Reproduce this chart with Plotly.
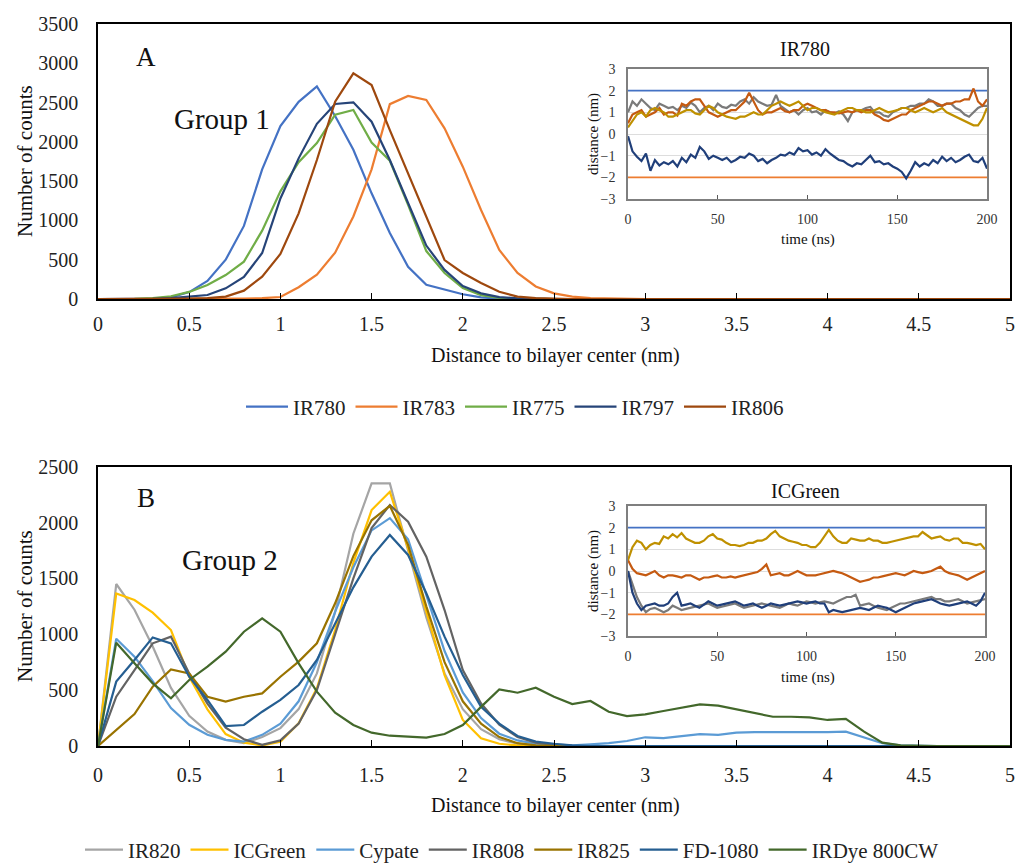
import plotly.graph_objects as go

W, H = 1015, 866
FONT = "Liberation Serif"


def px(x):
    return x / W


def py(y):
    return 1 - y / H


# ---------------- data ----------------
DIST = [round(i * 0.1, 1) for i in range(51)]  # bin centres, nm

# Group 1 (panel A)
A_NAMES = ["IR780", "IR783", "IR775", "IR797", "IR806"]
A_COLORS = ["#4472C4", "#ED7D31", "#70AD47", "#264478", "#9E480E"]
IR780 = [0, 0, 2, 5, 20, 88, 230, 500, 930, 1650, 2200, 2510, 2705, 2330, 1900, 1345, 840, 410, 180, 115,
         60, 20, 5, 0, 0, 0, 0, 0, 0, 0, 0, 0, 0, 0, 0, 0, 0, 0, 0, 0, 0, 0, 0, 0, 0, 0, 0, 0, 0, 0, 0]
IR783 = [0, 0, 0, 0, 0, 0, 0, 2, 5, 10, 25, 150, 310, 590, 1050, 1650, 2480, 2584, 2533, 2172,
         1684, 1133, 624, 331, 160, 72, 30, 12, 5, 2, 0, 0, 0, 0, 0, 0, 0, 0, 0, 0, 0, 0, 0, 0, 0, 0, 0, 0, 0, 0, 0]
IR775 = [0, 0, 3, 10, 35, 90, 178, 305, 475, 870, 1370, 1740, 1985, 2345, 2405, 1990, 1760, 1200, 610, 331,
         140, 50, 15, 5, 0, 0, 0, 0, 0, 0, 0, 0, 0, 0, 0, 0, 0, 0, 0, 0, 0, 0, 0, 0, 0, 0, 0, 0, 0, 0, 0]
IR797 = [0, 0, 0, 2, 10, 30, 51, 136, 280, 585, 1280, 1790, 2230, 2482, 2503, 2257, 1769, 1222, 680, 370,
         165, 72, 25, 8, 0, 0, 0, 0, 0, 0, 0, 0, 0, 0, 0, 0, 0, 0, 0, 0, 0, 0, 0, 0, 0, 0, 0, 0, 0, 0, 0]
IR806 = [0, 0, 0, 0, 2, 5, 10, 30, 106, 284, 573, 1090, 1769, 2512, 2872, 2724, 2150, 1600, 1048, 496,
         331, 204, 93, 30, 10, 3, 0, 0, 0, 0, 0, 0, 0, 0, 0, 0, 0, 0, 0, 0, 0, 0, 0, 0, 0, 0, 0, 0, 0, 0, 0]
A_SERIES = [IR780, IR783, IR775, IR797, IR806]

# Group 2 (panel B)
B_NAMES = ["IR820", "ICGreen", "Cypate", "IR808", "IR825", "FD-1080", "IRDye 800CW"]
B_COLORS = ["#A5A5A5", "#FFC000", "#5B9BD5", "#636363", "#997300", "#255E91", "#43682B"]
IR820 = [0, 1450, 1220, 890, 520, 270, 130, 55, 25, 80, 160, 330, 650, 1200, 1900, 2350, 2350, 1750, 1150, 650,
         330, 150, 60, 20, 5, 0, 0, 0, 0, 0, 0, 0, 0, 0, 0, 0, 0, 0, 0, 0, 0, 0, 0, 0, 0, 0, 0, 0, 0, 0, 0]
ICGREEN = [0, 1366, 1307, 1193, 1038, 620, 328, 107, 30, 5, 39, 203, 516, 1038, 1640, 2112, 2276, 1769, 1202, 635,
           233, 70, 20, 5, 0, 0, 0, 0, 0, 0, 0, 0, 0, 0, 0, 0, 0, 0, 0, 0, 0, 0, 0, 0, 0, 0, 0, 0, 0, 0, 0]
CYPATE = [0, 960, 800, 580, 340, 190, 100, 55, 40, 100, 200, 400, 750, 1200, 1600, 1930, 2040, 1850, 1350, 850,
          480, 250, 110, 50, 20, 10, 5, 15, 25, 45, 78, 70, 90, 107, 100, 119, 125, 125, 125, 120,
          125, 128, 75, 25, 5, 0, 0, 0, 0, 0, 0]
IR808 = [0, 441, 680, 919, 979, 650, 380, 165, 60, 10, 50, 200, 500, 1000, 1500, 1950, 2157, 2008, 1695, 1217,
         680, 380, 190, 80, 30, 10, 0, 0, 0, 0, 0, 0, 0, 0, 0, 0, 0, 0, 0, 0, 0, 0, 0, 0, 0, 0, 0, 0, 0, 0, 0]
IR825 = [0, 143, 286, 531, 686, 650, 441, 397, 441, 471, 620, 755, 919, 1277, 1700, 2020, 2150, 1800, 1250, 750,
         400, 200, 80, 25, 5, 0, 0, 0, 0, 0, 0, 0, 0, 0, 0, 0, 0, 0, 0, 0, 0, 0, 0, 0, 0, 0, 0, 0, 0, 0, 0]
FD1080 = [0, 576, 770, 972, 919, 620, 412, 179, 188, 307, 412, 546, 770, 1100, 1420, 1695, 1889, 1710, 1367, 979,
          636, 350, 200, 90, 40, 20, 5, 0, 0, 0, 0, 0, 0, 0, 0, 0, 0, 0, 0, 0, 0, 0, 0, 0, 0, 0, 0, 0, 0, 0, 0]
IRDYE = [0, 925, 740, 561, 427, 591, 710, 844, 1023, 1143, 1023, 740, 486, 298, 188, 119, 92, 84, 75, 107,
         188, 350, 507, 477, 522, 441, 376, 403, 307, 268, 283, 313, 343, 373, 361, 328, 298, 262, 262, 257,
         233, 242, 128, 30, 5, 0, 0, 0, 0, 0, 0]
B_SERIES = [IR820, ICGREEN, CYPATE, IR808, IR825, FD1080, IRDYE]

# Insets: distance to bilayer centre vs time, one value every 2.5 ns (0..200 ns)
MEMBRANE_LEVELS = [2, -2]
MEMBRANE_COLORS = ["#4472C4", "#ED7D31"]
TRAJ_COLORS = ["#7A7A7A", "#C55A11", "#BF9000", "#203F7A"]

IR780_GRAY = [1.0, 1.5, 1.3, 1.6, 1.4, 1.2, 1.1, 1.4, 1.3, 1.2,
              1.25, 1.1, 1.3, 1.2, 1.45, 1.3, 1.0, 1.2, 1.3, 1.1,
              1.4, 1.25, 1.2, 1.35, 1.3, 1.5, 1.6, 1.4, 1.7, 1.5,
              1.4, 1.3, 1.35, 1.8, 1.3, 1.15, 1.0, 1.1, 0.9, 1.1,
              1.2, 1.0, 1.05, 0.9, 1.1, 1.0, 0.95, 1.05, 0.9, 0.6,
              1.0, 1.1, 1.1, 1.2, 1.25, 1.0, 1.0, 0.85, 0.8, 1.0,
              1.1, 1.2, 1.2, 1.3, 1.3, 1.4, 1.4, 1.6, 1.5, 1.3,
              1.3, 1.4, 1.4, 1.2, 1.1, 0.9, 0.8, 1.0, 1.2, 1.3,
              1.3]
IR780_BROWN = [0.5, 0.9, 1.0, 1.1, 0.8, 0.9, 1.0, 1.2, 0.9, 1.0,
               1.0, 0.85, 1.4, 1.3, 1.5, 1.6, 1.6, 1.3, 1.0, 0.9,
               0.8, 0.9, 1.0, 1.1, 1.1, 1.3, 1.5, 1.9, 1.5, 1.1,
               0.9, 1.0, 1.0, 1.1, 1.2, 1.05, 1.0, 1.1, 1.1, 1.3,
               1.4, 1.3, 1.2, 1.1, 1.1, 1.0, 1.0, 0.95, 1.0, 1.05,
               1.0, 1.1, 1.0, 1.1, 1.1, 0.9, 0.8, 0.65, 0.6, 0.7,
               0.8, 0.9, 0.9, 1.1, 1.2, 1.3, 1.4, 1.5, 1.5, 1.4,
               1.3, 1.4, 1.4, 1.5, 1.5, 1.6, 1.6, 2.1, 1.5, 1.3,
               1.6]
IR780_GOLD = [0.3, 0.6, 0.9, 1.0, 0.8, 1.1, 1.2, 1.1, 1.0, 0.8,
              0.8, 0.9, 1.0, 1.1, 1.1, 0.95, 0.9, 1.1, 1.3, 1.2,
              1.0, 0.9, 0.8, 0.75, 0.7, 0.8, 0.8, 0.9, 1.0, 0.9,
              0.9, 1.1, 1.3, 1.4, 1.5, 1.4, 1.3, 1.4, 1.5, 1.3,
              1.1, 1.2, 1.2, 1.1, 1.0, 0.95, 0.9, 1.0, 1.1, 1.2,
              1.2, 1.1, 1.1, 1.0, 1.0, 1.1, 1.2, 1.1, 1.0, 1.05,
              1.1, 1.2, 1.2, 1.1, 1.0, 1.1, 1.2, 1.1, 1.0, 1.1,
              1.2, 1.0, 0.9, 0.8, 0.7, 0.6, 0.5, 0.4, 0.4, 0.7,
              1.2]
IR780_NAVY = [-0.1, -0.8, -1.05, -1.25, -0.9, -1.7, -1.2, -1.45, -1.3, -1.4,
              -1.25, -1.5, -1.1, -1.3, -0.95, -1.1, -0.6, -0.8, -1.15, -1.0,
              -1.1, -1.2, -1.1, -1.3, -1.2, -1.05, -1.1, -0.9, -1.0, -1.25,
              -1.15, -1.35, -1.2, -1.1, -0.95, -1.0, -0.85, -0.95, -0.65, -0.8,
              -0.75, -0.95, -0.85, -1.0, -0.7, -0.9, -1.05, -1.2, -1.25, -1.4,
              -1.5, -1.35, -1.4, -1.2, -1.0, -1.3, -1.25, -1.4, -1.35, -1.5,
              -1.6, -1.75, -2.05, -1.7, -1.3, -1.5, -1.35, -1.45, -1.2, -1.35,
              -1.05, -1.25, -1.1, -1.3, -1.2, -1.05, -0.95, -1.25, -1.3, -1.1,
              -1.6]

ICG_GRAY = [0.0, -0.6, -1.2, -1.6, -1.9, -1.75, -1.7, -1.8, -1.9, -1.8,
            -1.6, -1.7, -1.8, -1.75, -1.7, -1.65, -1.6, -1.55, -1.5, -1.6,
            -1.7, -1.65, -1.6, -1.55, -1.5, -1.6, -1.7, -1.65, -1.6, -1.55,
            -1.5, -1.55, -1.6, -1.65, -1.7, -1.6, -1.5, -1.55, -1.6, -1.5,
            -1.4, -1.45, -1.5, -1.45, -1.4, -1.45, -1.5, -1.4, -1.3, -1.2,
            -1.2, -1.1, -1.6, -1.55, -1.5, -1.6, -1.7, -1.75, -1.8, -1.7,
            -1.6, -1.5, -1.5, -1.45, -1.4, -1.35, -1.3, -1.25, -1.2, -1.3,
            -1.3, -1.4, -1.4, -1.35, -1.3, -1.4, -1.5, -1.45, -1.4, -1.35,
            -1.3]
ICG_BROWN = [0.5, 0.1, -0.1, -0.15, -0.2, -0.1, 0.0, -0.2, -0.3, -0.2,
             -0.2, -0.25, -0.3, -0.2, -0.2, -0.3, -0.4, -0.3, -0.3, -0.25,
             -0.2, -0.3, -0.3, -0.25, -0.3, -0.25, -0.2, -0.15, -0.1, -0.05,
             0.1, 0.3, -0.2, -0.15, -0.1, -0.2, -0.2, -0.1, 0.0, -0.1,
             -0.2, -0.2, -0.2, -0.15, -0.1, -0.05, 0.0, -0.05, -0.1, -0.2,
             -0.3, -0.4, -0.5, -0.45, -0.4, -0.3, -0.3, -0.25, -0.2, -0.15,
             -0.1, -0.15, -0.2, -0.1, 0.0, -0.05, -0.1, -0.05, 0.0, 0.1,
             0.2, 0.0, -0.1, -0.15, -0.2, -0.3, -0.4, -0.3, -0.2, -0.1,
             0.0]
ICG_GOLD = [0.5, 1.1, 1.4, 1.3, 1.0, 1.2, 1.3, 1.25, 1.6, 1.5,
            1.7, 1.55, 1.75, 1.5, 1.4, 1.3, 1.3, 1.4, 1.6, 1.7,
            1.5, 1.45, 1.3, 1.2, 1.2, 1.15, 1.2, 1.3, 1.3, 1.4,
            1.4, 1.5, 1.7, 1.85, 1.6, 1.5, 1.4, 1.35, 1.3, 1.2,
            1.2, 1.1, 1.1, 1.3, 1.6, 1.9, 1.6, 1.4, 1.3, 1.3,
            1.5, 1.45, 1.4, 1.4, 1.5, 1.4, 1.4, 1.3, 1.3, 1.35,
            1.4, 1.45, 1.5, 1.55, 1.6, 1.6, 1.8, 1.65, 1.5, 1.55,
            1.6, 1.45, 1.4, 1.5, 1.5, 1.3, 1.3, 1.25, 1.2, 1.25,
            1.0]
ICG_NAVY = [0.0, -1.0, -1.5, -1.8, -1.6, -1.55, -1.5, -1.6, -1.6, -1.5,
            -1.2, -1.0, -1.6, -1.55, -1.5, -1.6, -1.7, -1.55, -1.4, -1.5,
            -1.6, -1.55, -1.5, -1.45, -1.4, -1.5, -1.6, -1.55, -1.5, -1.6,
            -1.7, -1.6, -1.5, -1.55, -1.6, -1.55, -1.5, -1.45, -1.4, -1.45,
            -1.5, -1.45, -1.4, -1.5, -1.5, -1.9, -1.8, -1.85, -1.9, -1.85,
            -1.8, -1.75, -1.7, -1.75, -1.8, -1.7, -1.6, -1.65, -1.7, -1.8,
            -1.9, -1.8, -1.7, -1.6, -1.5, -1.45, -1.4, -1.35, -1.3, -1.4,
            -1.5, -1.55, -1.6, -1.55, -1.5, -1.45, -1.4, -1.5, -1.6, -1.4,
            -1.0]

INSET_A = [IR780_GRAY, IR780_BROWN, IR780_GOLD, IR780_NAVY]
INSET_B = [ICG_GRAY, ICG_NAVY, ICG_BROWN, ICG_GOLD]
INSET_B_COLORS = [TRAJ_COLORS[0], TRAJ_COLORS[3], TRAJ_COLORS[1], TRAJ_COLORS[2]]
T_END = 200


def times(vals):
    n = len(vals)
    return [T_END * i / (n - 1) for i in range(n)]


# ---------------- figure ----------------
fig = go.Figure()

for name, col, vals in zip(A_NAMES, A_COLORS, A_SERIES):
    fig.add_trace(go.Scatter(x=DIST, y=vals, mode="lines", name=name,
                             line=dict(color=col, width=2.2), xaxis="x", yaxis="y",
                             legend="legend"))
for name, col, vals in zip(B_NAMES, B_COLORS, B_SERIES):
    fig.add_trace(go.Scatter(x=DIST, y=vals, mode="lines", name=name,
                             line=dict(color=col, width=2.2), xaxis="x2", yaxis="y2",
                             legend="legend2"))

for xa, ya, series, cols in [("x3", "y3", INSET_A, TRAJ_COLORS), ("x4", "y4", INSET_B, INSET_B_COLORS)]:
    for lvl, col in zip(MEMBRANE_LEVELS, MEMBRANE_COLORS):
        fig.add_trace(go.Scatter(x=[0, T_END], y=[lvl, lvl], mode="lines", showlegend=False,
                                 line=dict(color=col, width=1.6), xaxis=xa, yaxis=ya))
    for vals, col in zip(series, cols):
        fig.add_trace(go.Scatter(x=times(vals), y=vals, mode="lines", showlegend=False,
                                 line=dict(color=col, width=2.2), xaxis=xa, yaxis=ya))

main_x = dict(range=[0, 5], tickvals=[i * 0.5 for i in range(11)], ticks="inside", ticklen=6,
              tickcolor="black", showline=True, linecolor="black", linewidth=1.5, mirror=True,
              showgrid=False, zeroline=False, automargin=False, ticklabeloverflow="allow",
              tickfont=dict(family=FONT, size=20, color="#222"))
main_y = dict(ticks="", showline=True, linecolor="black", linewidth=1.5, mirror=True,
              showgrid=False, zeroline=False, automargin=False, ticklabeloverflow="allow",
              tickfont=dict(family=FONT, size=20, color="#222"), ticklabelstandoff=14)
ins_x = dict(range=[0, 200], tickvals=[0, 50, 100, 150, 200], ticks="inside", ticklen=4,
             tickcolor="#595959", showline=True, linecolor="#7F7F7F", linewidth=1.5, mirror=True,
             showgrid=False, zeroline=False, automargin=False, ticklabeloverflow="allow",
             tickfont=dict(family=FONT, size=14, color="#333"), ticklabelstandoff=6)
ins_y = dict(range=[-3, 3], dtick=1, ticks="", showline=True, linecolor="#7F7F7F", linewidth=1.5,
             mirror=True, showgrid=True, gridcolor="#DDDDDD", gridwidth=1, zeroline=False,
             automargin=False, ticklabeloverflow="allow",
             tickfont=dict(family=FONT, size=14, color="#333"), ticklabelstandoff=8)

fig.update_layout(
    width=W, height=H, margin=dict(l=0, r=0, t=0, b=0, autoexpand=False),
    paper_bgcolor="white", plot_bgcolor="white",
    xaxis=dict(main_x, domain=[px(98), px(1010)], anchor="y", ticklabelstandoff=6),
    yaxis=dict(main_y, domain=[py(299), py(24)], range=[0, 3500], dtick=500, anchor="x"),
    xaxis2=dict(main_x, domain=[px(98), px(1010)], anchor="y2", ticklabelstandoff=10),
    yaxis2=dict(main_y, domain=[py(746), py(466.7)], range=[0, 2500], dtick=500, anchor="x2"),
    xaxis3=dict(ins_x, domain=[px(628), px(987)], anchor="y3"),
    yaxis3=dict(ins_y, domain=[py(199), py(69)], anchor="x3"),
    xaxis4=dict(ins_x, domain=[px(628), px(985)], anchor="y4"),
    yaxis4=dict(ins_y, domain=[py(636), py(506)], anchor="x4"),
    legend=dict(orientation="h", x=px(515), xanchor="center", y=py(407), yanchor="middle",
                font=dict(family=FONT, size=21, color="#222"), itemwidth=42, bgcolor="rgba(0,0,0,0)"),
    legend2=dict(orientation="h", x=px(512), xanchor="center", y=py(850), yanchor="middle",
                 font=dict(family=FONT, size=21, color="#222"), itemwidth=38, bgcolor="rgba(0,0,0,0)"),
    showlegend=True,
)

ann = [
    ("A", 146, 57, 27, 0),
    ("Group 1", 222, 119, 29, 0),
    ("B", 146, 498, 27, 0),
    ("Group 2", 230, 560, 29, 0),
    ("Distance to bilayer center (nm)", 555, 355, 20, 0),
    ("Distance to bilayer center (nm)", 555, 805, 20, 0),
    ("Number of counts", 25, 161, 21, -90),
    ("Number of counts", 25, 606, 21, -90),
    ("IR780", 805, 49, 20, 0),
    ("ICGreen", 805, 491, 20, 0),
    ("distance (nm)", 593, 134, 15, -90),
    ("distance (nm)", 593, 571, 15, -90),
    ("time (ns)", 808, 240, 15, 0),
    ("time (ns)", 808, 677, 15, 0),
]
for text, x, y, size, ang in ann:
    fig.add_annotation(text=text, x=px(x), y=py(y), xref="paper", yref="paper",
                       xanchor="center", yanchor="middle", showarrow=False, textangle=ang,
                       font=dict(family=FONT, size=size, color="#111"))

# remove the browser's default page margin so the figure fills the window exactly
fig.write_html("out.html", config={"displayModeBar": False},
               post_script="document.body.style.margin='0';document.body.style.overflow='hidden';")
